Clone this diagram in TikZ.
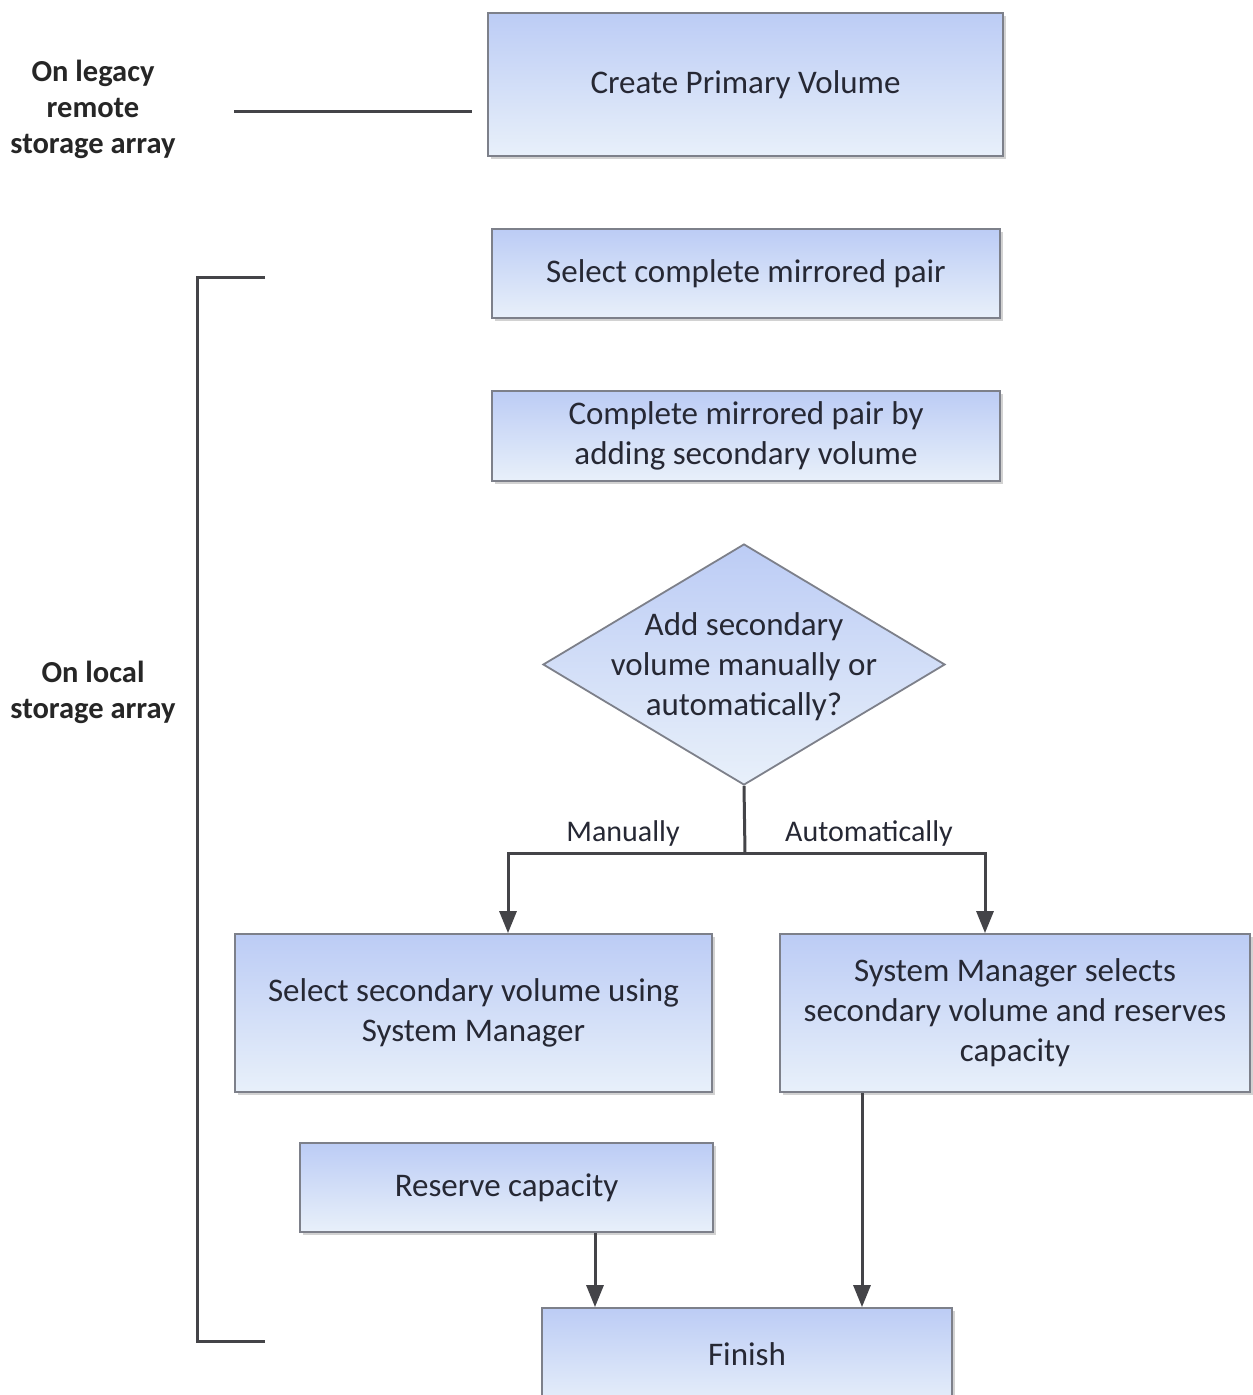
\documentclass[tikz,border=0pt]{standalone}
\usepackage{fontspec}
\setmainfont{Carlito}
\usetikzlibrary{shapes.geometric,arrows.meta,shadows}
\definecolor{boxtop}{RGB}{188,204,245}
\definecolor{boxbot}{RGB}{232,240,250}
\definecolor{boxline}{RGB}{125,128,138}
\definecolor{txtcol}{RGB}{38,40,52}
\definecolor{linecol}{RGB}{68,68,72}
\tikzset{
  box/.style={rectangle, draw=boxline, line width=1.8pt, top color=boxtop, bottom color=boxbot,
    inner sep=0pt, align=center, text=txtcol, font=\fontsize{33}{40}\selectfont,
    drop shadow={shadow xshift=2.5pt, shadow yshift=-2.5pt, opacity=0.35, fill=gray}},
  dia/.style={diamond, draw=boxline, line width=1.8pt, top color=boxtop, bottom color=boxbot,
    inner sep=0pt, minimum width=402pt, minimum height=241pt},
  diatxt/.style={align=center, text=txtcol, font=\fontsize{33}{40}\selectfont, inner sep=0pt},
  side/.style={align=center, text=black!85, font=\bfseries\fontsize{30.5}{36}\selectfont, inner sep=0pt},
  lab/.style={text=txtcol, font=\fontsize{30}{34}\selectfont, inner sep=0pt},
  conn/.style={draw=linecol, line width=3pt},
  arr/.style={conn, -{Triangle[length=22pt,width=17pt]}}
}
\begin{document}
\begin{tikzpicture}[x=1pt,y=-1pt]
\useasboundingbox (0,0) rectangle (1253,1395);
\clip (0,0) rectangle (1253,1395);
\fill[white] (0,0) rectangle (1253,1395);

% side labels
\node[side] (legacy) at (93,109) {On legacy\\remote\\storage array};
\node[side] (local) at (93,692) {On local\\storage array};
\draw[conn] (234,111) -- (472,111);
\draw[conn] (265,277) -- (197,277) -- (197,1341) -- (265,1341);

% boxes
\node[box, minimum width=515pt, minimum height=143pt] (prim) at (745.5,84.5) {Create Primary Volume};
\node[box, minimum width=508pt, minimum height=89pt] (sel) at (746,273.5) {Select complete mirrored pair};
\node[box, minimum width=508pt, minimum height=90pt] (comp) at (746,436) {Complete mirrored pair by\\adding secondary volume};
\node[dia] (q) at (744,664.5) {};
\node[diatxt] (qt) at ([yshift=-2pt]q.center) {Add secondary\\volume manually or\\automatically?};
\node[box, minimum width=477pt, minimum height=158pt] (man) at (473.5,1013) {Select secondary volume using\\System Manager};
\node[box, minimum width=470pt, minimum height=158pt] (auto) at (1015,1013) {System Manager selects\\secondary volume and reserves\\capacity};
\node[box, minimum width=413pt, minimum height=89pt] (res) at (506.5,1187.5) {Reserve capacity};
\node[box, minimum width=410pt, minimum height=100pt] (fin) at (747,1358) {};
\node[diatxt] (fint) at (747,1354) {Finish};

% connectors
\coordinate (split) at (745,853);
\draw[conn] (q.south) -- (split);
\draw[arr] (split) -| ([xshift=34.5pt]man.north);
\draw[arr] (split) -| ([xshift=-30pt]auto.north);
\node[lab] (ml) at (623,833) {Manually};
\node[lab] (al) at (869,833) {Automatically};
\draw[arr] ([xshift=-153pt]auto.south) -- ([xshift=-153pt]auto.south |- fin.north);
\draw[arr] ([xshift=88.5pt]res.south) -- ([xshift=88.5pt]res.south |- fin.north);
\end{tikzpicture}
\end{document}
